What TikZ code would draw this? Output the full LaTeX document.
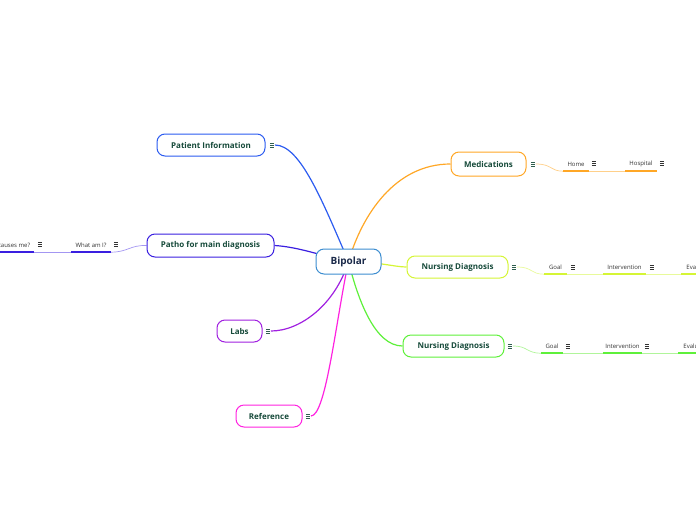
\documentclass[tikz,border=0pt]{standalone}
\usepackage{fontspec}
\setmainfont{Open Sans}
\usetikzlibrary{backgrounds}
\definecolor{tcol}{HTML}{164A3A}
\definecolor{icol}{HTML}{2F5E4E}
\definecolor{scol}{HTML}{333333}
\definecolor{navy}{HTML}{1B2A4A}
\definecolor{cbip}{HTML}{3C8DD0}
\definecolor{cpi}{HTML}{2B5BF0}
\definecolor{cpat}{HTML}{3A1FE0}
\definecolor{cpatl}{HTML}{A396F2}
\definecolor{clab}{HTML}{A020E0}
\definecolor{cref}{HTML}{FF22E0}
\definecolor{cmed}{HTML}{FFA726}
\definecolor{cmedl}{HTML}{FFD08A}
\definecolor{cnda}{HTML}{D5F535}
\definecolor{cndal}{HTML}{E8FA9A}
\definecolor{cndb}{HTML}{5EF03A}
\definecolor{cndbl}{HTML}{B0F59A}
\newcommand\mnu{\vbox{\hrule width 4.5pt height 0.6pt\vskip1.3pt\hrule width 4.5pt height 0.6pt\vskip1.3pt\hrule width 4.5pt height 0.6pt}}
\tikzset{
 topic/.style={draw=#1, line width=1pt, rounded corners=8pt, fill=white, minimum height=22pt, inner sep=0pt, font=\fontsize{8}{9.5}\selectfont\bfseries, text=tcol},
 menuic/.style={inner sep=0.5pt, text=icol},
 submenu/.style={inner sep=0.5pt, text=scol},
 subitem/.style={inner sep=0pt, minimum height=14pt, font=\fontsize{6}{7}\selectfont, text=scol},
 conn/.style={line width=1.2pt, draw=#1},
 thinconn/.style={line width=0.7pt, draw=#1},
 uline/.style={line width=1.6pt, draw=#1},
}
\begin{document}
\begin{tikzpicture}[x=1pt,y=-1pt]
\clip (0,0) rectangle (696,520);
% central
\node[topic=cbip, minimum width=65pt, minimum height=25pt, font=\fontsize{10}{12}\selectfont\bfseries, text=navy] (bip) at (348.5,261.5) {Bipolar};
% left topics
\node[topic=cpi, minimum width=108pt] (pi) at (211,145) {Patient Information};
\node[menuic] (pim) at (272,145) {\mnu};
\node[topic=cpat, minimum width=127pt, minimum height=23pt] (pat) at (210.5,245.5) {Patho for main diagnosis};
\node[topic=clab, minimum width=45pt] (lab) at (239.5,331) {Labs};
\node[menuic] (labm) at (268,331) {\mnu};
\node[topic=cref, minimum width=66pt] (ref) at (269,416) {Reference};
\node[menuic] (refm) at (308,416) {\mnu};
% right topics
\node[topic=cmed, minimum width=75pt, minimum height=24pt] (med) at (488.5,164) {Medications};
\node[menuic] (medm) at (533,164) {\mnu};
\node[topic=cnda, minimum width=101pt] (nda) at (457.5,267) {Nursing Diagnosis};
\node[menuic] (ndam) at (514,267) {\mnu};
\node[topic=cndb, minimum width=101pt] (ndb) at (453.5,346) {Nursing Diagnosis};
\node[menuic] (ndbm) at (510,346) {\mnu};
% patho subtopics
\node[subitem, minimum width=40pt] (wai) at (91,245) {What am I?};
\node[submenu] (waim) at (116,244) {\mnu};
\node[subitem, minimum width=56pt] (wcm) at (6,245) {What causes me?};
\node[submenu] (wcmm) at (40,244) {\mnu};
% medication subtopics
\node[subitem, minimum width=26pt] (home) at (576,164) {Home};
\node[submenu] (homem) at (594,163) {\mnu};
\node[subitem, minimum width=32pt] (hosp) at (641,164) {Hospital};
\node[submenu] (hospm) at (662,163) {\mnu};
% ND1 subtopics
\node[subitem, minimum width=23pt] (goala) at (555.5,267) {Goal};
\node[submenu] (goalam) at (573,267) {\mnu};
\node[subitem, minimum width=43pt] (inta) at (624.5,267) {Intervention};
\node[submenu] (intam) at (652,267) {\mnu};
\node[subitem, minimum width=40pt] (evaa) at (701,267) {Evaluation};
% ND2 subtopics
\node[subitem, minimum width=22pt] (goalb) at (552,346) {Goal};
\node[submenu] (goalbm) at (568,346) {\mnu};
\node[subitem, minimum width=39pt] (intb) at (622.5,346) {Intervention};
\node[submenu] (intbm) at (647,346) {\mnu};
\node[subitem, minimum width=40pt] (evab) at (698,346) {Evaluation};
\begin{pgfonlayer}{background}
% main connectors
\draw[conn=cpi] (pim.east) .. controls (300,145) and (322,200) .. (bip.center);
\draw[conn=cpat] (pat.east) .. controls (300,247) and (325,257) .. (bip.center);
\draw[conn=clab] (labm.east) .. controls (300,331) and (335,305) .. (bip.center);
\draw[conn=cref] (refm.east) .. controls (326,416) and (336,320) .. (bip.center);
\draw[conn=cmed] (bip.center) .. controls (362,215) and (395,164) .. (med.west);
\draw[conn=cnda] (bip.center) .. controls (380,262) and (395,267) .. (nda.west);
\draw[conn=cndb] (bip.center) .. controls (358,300) and (375,346) .. (ndb.west);
% sub connectors
\draw[thinconn=cpatl] (pat.west) .. controls (130,245) and (128,252) .. (wai.south east);
\draw[thinconn=cpatl] (wai.south west) -- (wcm.south east);
\draw[thinconn=cmedl] (medm.east) .. controls (552,164) and (550,171) .. (home.south west);
\draw[thinconn=cmedl] (home.south east) -- (hosp.south west);
\draw[thinconn=cndal] (ndam.east) .. controls (533,267) and (530,274) .. (goala.south west);
\draw[thinconn=cndal] (goala.south east) -- (inta.south west);
\draw[thinconn=cndal] (inta.south east) -- (evaa.south west);
\draw[thinconn=cndbl] (ndbm.east) .. controls (528,346) and (526,353) .. (goalb.south west);
\draw[thinconn=cndbl] (goalb.south east) -- (intb.south west);
\draw[thinconn=cndbl] (intb.south east) -- (evab.south west);
\end{pgfonlayer}
% underlines
\draw[uline=cpat] (wai.south west) -- (wai.south east);
\draw[uline=cpat] (wcm.south west) -- (wcm.south east);
\draw[uline=cmed] (home.south west) -- (home.south east);
\draw[uline=cmed] (hosp.south west) -- (hosp.south east);
\draw[uline=cnda] (goala.south west) -- (goala.south east);
\draw[uline=cnda] (inta.south west) -- (inta.south east);
\draw[uline=cnda] (evaa.south west) -- (evaa.south east);
\draw[uline=cndb] (goalb.south west) -- (goalb.south east);
\draw[uline=cndb] (intb.south west) -- (intb.south east);
\draw[uline=cndb] (evab.south west) -- (evab.south east);
\end{tikzpicture}
\end{document}
